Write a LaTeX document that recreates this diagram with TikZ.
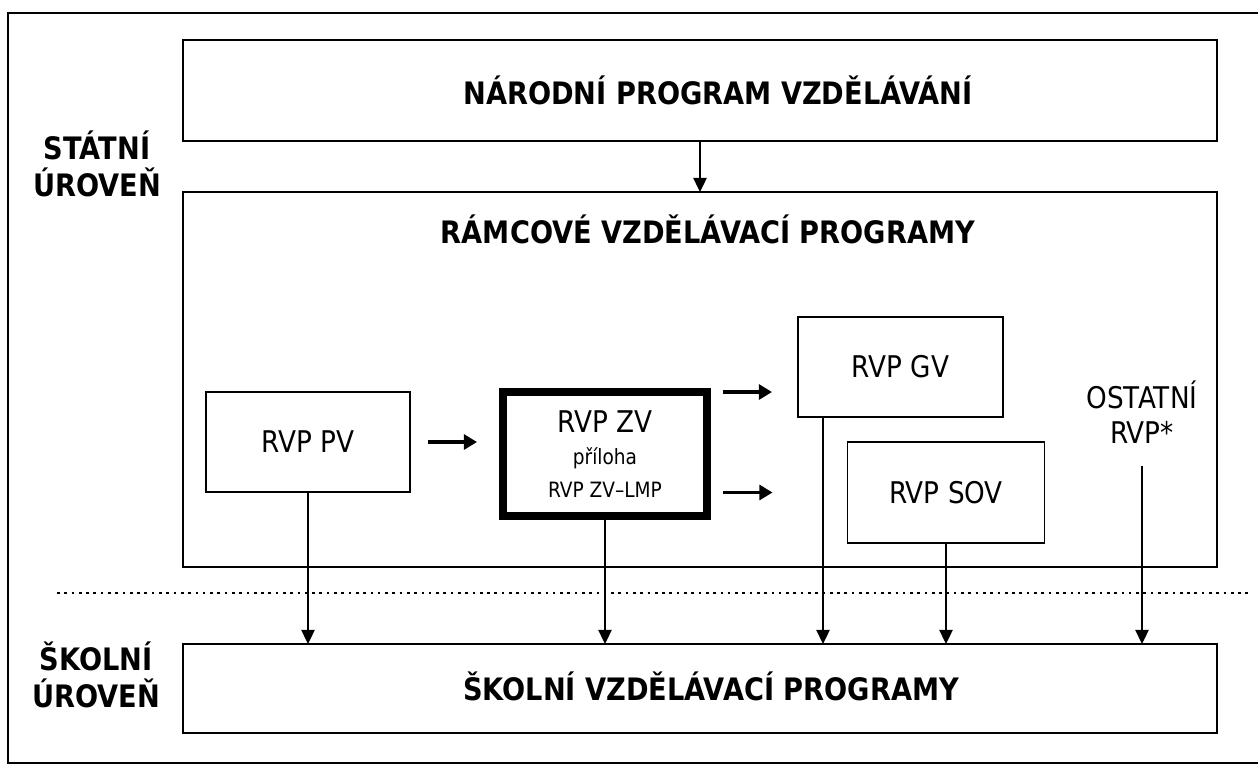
\documentclass[tikz,border=0pt]{standalone}
\usepackage{fontspec}
\setmainfont{DejaVu Sans}[FakeStretch=0.88]
\usepackage{tikz}
\usetikzlibrary{arrows.meta}
\newcommand{\velke}{\fontsize{17.6}{21}\selectfont\bfseries}
\newcommand{\stredni}{\fontsize{17}{19.8}\selectfont}
\newcommand{\male}{\fontsize{12}{18.7}\selectfont}

\begin{document}
\begin{tikzpicture}[x=0.02cm,y=-0.02cm,
        ramec/.style={draw,line width=1pt,inner sep=0pt,outer sep=0pt},
        tlusty/.style={draw,line width=4.5pt,inner sep=0pt,outer sep=0pt},
        dolu/.style={line width=1pt,-{Triangle[length=8pt,width=7.5pt]}},
        sipka/.style={line width=2.2pt,-{Triangle[length=7.5pt,width=8.5pt]}},
        tecky/.style={line width=1.5pt,dash pattern=on 1.5pt off 2.65pt}]
        \useasboundingbox (0,0) rectangle (1258,765);
        \clip (0,0) rectangle (1258,765);
        \draw[line width=1pt] (8,13) rectangle (1280,763);
        % statni uroven
        \node[font=\velke,align=center] (statni) at (97,164) {STÁTNÍ\\ÚROVEŇ};
        \node[ramec,minimum width=20.68cm,minimum height=2.02cm] (npv) at (700,90.5) {};
        \node[font=\velke] (npvtext) at (718,90.5) {NÁRODNÍ PROGRAM VZDĚLÁVÁNÍ};
        \node[ramec,minimum width=20.68cm,minimum height=7.5cm] (rvp) at (700,379.5) {};
        \node[font=\velke] (rvptext) at (708,229.5) {RÁMCOVÉ VZDĚLÁVACÍ PROGRAMY};
        \node[ramec,minimum width=4.08cm,minimum height=2cm,font=\stredni] (pv) at (308,442) {RVP PV};
        \node[tlusty,minimum width=4.08cm,minimum height=2.48cm,align=center,
              font=\fontsize{17}{18.7}\selectfont] (zv) at (605,454) {RVP ZV\\{\male příloha}\\{\male RVP ZV–LMP}};
        \node[ramec,minimum width=4.1cm,minimum height=2cm,font=\stredni] (gv) at (900.5,367) {RVP GV};
        \node[ramec,minimum width=3.94cm,minimum height=2.02cm,font=\stredni] (sov) at (946,492.5) {RVP SOV};
        \node[font=\stredni,align=center] (ost) at (1142,412) {OSTATNÍ\\RVP*};
        % hranice urovni
        \draw[tecky] (57,593) -- (1252,593);
        % skolni uroven
        \node[font=\velke,align=center] (skolni) at (96,675) {ŠKOLNÍ\\ÚROVEŇ};
        \node[ramec,minimum width=20.68cm,minimum height=1.78cm] (skv) at (700,688.5) {};
        \node[font=\velke] (skvtext) at (711,686) {ŠKOLNÍ VZDĚLÁVACÍ PROGRAMY};
        % sipky
        \draw[dolu] (npv) -- (rvp);
        \draw[sipka,shorten <=0.36cm,shorten >=0.52cm] (pv.east) -- (pv.east -| zv.west);
        \draw[sipka,shorten <=0.32cm,shorten >=0.52cm] (zv.north east) -- (zv.north east -| gv.west);
        \draw[sipka,shorten <=0.32cm,shorten >=1.5cm] (zv.east |- sov.west) -- (sov.west);
        \foreach \n in {pv,zv,sov}
            \draw[dolu] (\n.south) -- (\n.south |- skv.north);
        \coordinate (gvdol) at ([xshift=0.5cm]gv.south west);
        \draw[dolu] (gvdol) -- (gvdol |- skv.north);
        \draw[dolu,shorten <=0.34cm] (ost.south) -- (ost.south |- skv.north);
    \end{tikzpicture}
\end{document}
